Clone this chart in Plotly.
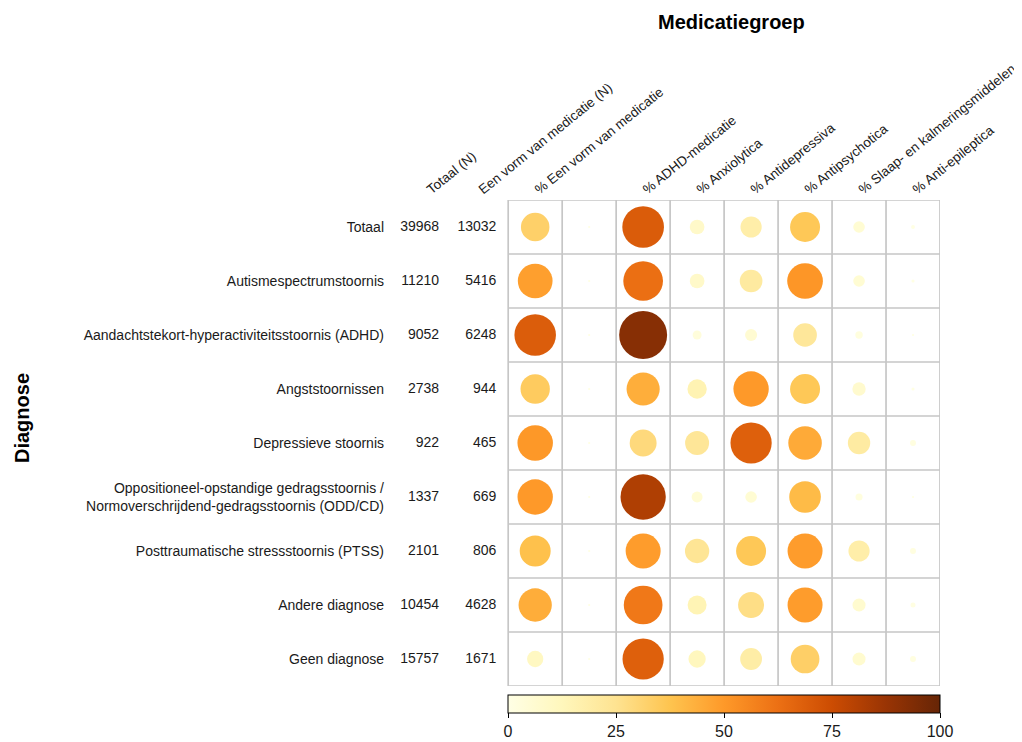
import plotly.graph_objects as go

# ---------------- data ----------------
diagnoses = [
    "Totaal",
    "Autismespectrumstoornis",
    "Aandachtstekort-hyperactiviteitsstoornis (ADHD)",
    "Angststoornissen",
    "Depressieve stoornis",
    "Oppositioneel-opstandige gedragsstoornis /<br>Normoverschrijdend-gedragsstoornis (ODD/CD)",
    "Posttraumatische stressstoornis (PTSS)",
    "Andere diagnose",
    "Geen diagnose",
]
totaal_n = [39968, 11210, 9052, 2738, 922, 1337, 2101, 10454, 15757]
medicatie_n = [13032, 5416, 6248, 944, 465, 669, 806, 4628, 1671]

count_headers = ["Totaal (N)", "Een vorm van medicatie (N)"]
med_columns = [
    "% Een vorm van medicatie",
    "",
    "% ADHD-medicatie",
    "% Anxiolytica",
    "% Antidepressiva",
    "% Antipsychotica",
    "% Slaap- en kalmeringsmiddelen",
    "% Anti-epileptica",
]
pct_een_vorm = [32.6, 48.3, 69.0, 34.5, 50.4, 50.0, 38.4, 44.3, 10.6]
pct_leeg = [0.2, 0.2, 0.2, 0.2, 0.2, 0.2, 0.2, 0.2, 0.2]
pct_adhd = [69.5, 63, 92, 44, 29, 82, 49, 60, 68]
pct_anxiolytica = [8.6, 8.6, 3.2, 15, 23, 4.8, 23.7, 14.4, 12]
pct_antidepressiva = [18, 20.6, 5.8, 50, 68, 5.4, 36, 27, 19]
pct_antipsychotica = [36, 51, 22.4, 36, 45, 40, 49, 49, 33]
pct_slaap = [5.4, 5.4, 2.2, 7.1, 20, 2, 18, 6.8, 6.8]
pct_epileptica = [0.6, 0.4, 0.2, 0.4, 1.4, 0.2, 1.4, 1.0, 1.4]

series = [pct_een_vorm, pct_leeg, pct_adhd, pct_anxiolytica,
          pct_antidepressiva, pct_antipsychotica, pct_slaap, pct_epileptica]

# ---------------- layout constants ----------------
FONT = "Liberation Sans, Arial, sans-serif"
TXT = "#1a1a1a"
count_x = [-2.0, -1.04]         # header anchors of the count columns
count_right = [-1.78, -0.72]    # right edges for right-aligned numbers
nrow = len(diagnoses)
ncol = len(med_columns)

# the page body adds an 8px margin, so the figure is drawn 8px smaller
OFF = 8
W, H = 1022 - OFF, 742 - OFF
L, T = 390 - OFF, 200 - OFF
R = W - (940 - OFF)
B = H - (686 - OFF)
PW = W - L - R
PH = H - T - B

fig = go.Figure()

# circles
xs, ys, vs = [], [], []
for ci, col in enumerate(series):
    for ri, v in enumerate(col):
        xs.append(ci)
        ys.append(ri)
        vs.append(v)

fig.add_trace(go.Scatter(
    x=xs, y=ys, mode="markers",
    marker=dict(
        size=vs, sizemode="area", sizeref=0.08, sizemin=0,
        color=vs, colorscale="YlOrBr", cmin=0, cmax=100,
        opacity=1,
        line=dict(width=0),
        showscale=True,
        colorbar=dict(
            orientation="h",
            x=((724 - OFF) - L) / PW, xanchor="center",
            y=-((695 - OFF) - (T + PH)) / PH, yanchor="top",
            len=432, lenmode="pixels",
            thickness=18, thicknessmode="pixels",
            outlinecolor="black", outlinewidth=1,
            ticks="outside", ticklen=5, tickcolor="black",
            tickvals=[0, 25, 50, 75, 100],
            tickfont=dict(family=FONT, size=16, color=TXT),
            xpad=0, ypad=0,
        ),
    ),
    hoverinfo="skip", showlegend=False,
))

# count text columns
for xr, vals in zip(count_right, [totaal_n, medicatie_n]):
    fig.add_trace(go.Scatter(
        x=[xr] * nrow, y=list(range(nrow)), mode="text",
        text=[str(v) for v in vals], textposition="middle left",
        textfont=dict(family=FONT, size=14, color=TXT),
        hoverinfo="skip", showlegend=False,
    ))

# grid shapes
shapes = []
gc = "#c6c6c6"
for i in range(ncol + 1):
    shapes.append(dict(type="line", xref="x", yref="y",
                       x0=i - 0.5, x1=i - 0.5, y0=-0.5, y1=nrow - 0.5,
                       line=dict(color=gc, width=1.7)))
for j in range(nrow + 1):
    shapes.append(dict(type="line", xref="x", yref="y",
                       x0=-0.5, x1=ncol - 0.5, y0=j - 0.5, y1=j - 0.5,
                       line=dict(color=gc, width=1.7)))

tickvals = count_x + list(range(ncol))
ticktext = count_headers + med_columns

fig.update_layout(
    width=W, height=H,
    margin=dict(l=L, r=R, t=T, b=B, autoexpand=False),
    paper_bgcolor="white", plot_bgcolor="white",
    shapes=shapes,
    xaxis=dict(
        range=[-2.69, ncol - 0.5], side="top",
        tickvals=tickvals, ticktext=ticktext, tickangle=-39,
        showgrid=False, zeroline=False, showline=False, ticks="",
        tickfont=dict(family=FONT, size=13.5, color=TXT),
        ticklabeloverflow="allow",
        fixedrange=True, automargin=False,
    ),
    yaxis=dict(
        range=[nrow - 0.5, -0.5],
        tickvals=list(range(nrow)), ticktext=diagnoses,
        showgrid=False, zeroline=False, showline=False, ticks="",
        tickfont=dict(family=FONT, size=14, color=TXT),
        ticklabeloverflow="allow", ticklabelstandoff=5,
        fixedrange=True, automargin=False,
    ),
    annotations=[
        dict(text="<b>Medicatiegroep</b>", xref="paper", yref="paper",
             x=((731 - OFF) - L) / PW, y=1 + (T - (22 - OFF)) / PH,
             xanchor="center", yanchor="middle", showarrow=False,
             font=dict(family=FONT, size=20, color="black")),
        dict(text="<b>Diagnose</b>", xref="paper", yref="paper",
             x=((22 - OFF) - L) / PW, y=(T + PH - (418 - OFF)) / PH,
             xanchor="center", yanchor="middle", showarrow=False, textangle=-90,
             font=dict(family=FONT, size=20, color="black")),
    ],
)

fig.write_html("out.html")
